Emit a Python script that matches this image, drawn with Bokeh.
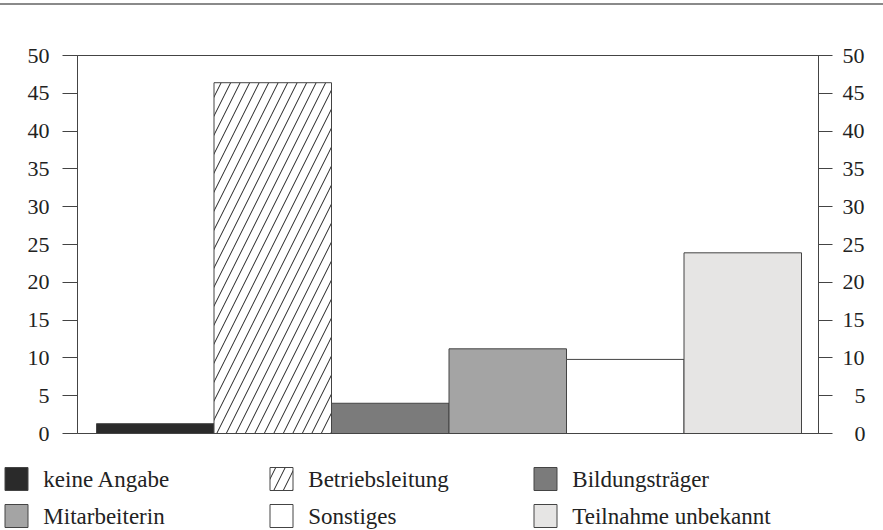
from bokeh.plotting import figure
from bokeh.models import (ColumnDataSource, Range1d, LinearAxis, FixedTicker, BoxAnnotation)
from bokeh.core.properties import value
from bokeh.embed import file_html
from bokeh.resources import INLINE

categories = ["keine Angabe", "Betriebsleitung", "Bildungsträger",
              "Mitarbeiterin", "Sonstiges", "Teilnahme unbekannt"]
values = [1.3, 46.4, 4.0, 11.2, 9.8, 23.9]
colors = ["#2a2a2a", "#ffffff", "#7b7b7b", "#a4a4a4", "#ffffff", "#e6e5e4"]
hatches = [" ", "/", " ", " ", " ", " "]
y_ticks_two_digit = [10, 15, 20, 25, 30, 35, 40, 45, 50]
y_ticks_one_digit = [0, 5]
y_min, y_max = 0, 50

FONT = "Liberation Serif"
TXT = "#222222"
LINE = "#444444"

# layout (pixels) -> the frame covers the whole canvas
W, H = 883, 530
BAR_PX, BAR0_PX = 117.5, 96.0          # bar width / left edge of first bar
AX_L_PX, AX_R_PX = 77.0, 818.0          # axis positions
Y0_PX, PX_PER_UNIT = 433.0, 7.56        # baseline, scale


def px_x(px):
    return (px - BAR0_PX) / BAR_PX


def px_y(py):
    return (Y0_PX - py) / PX_PER_UNIT


x_start, x_end = px_x(0), px_x(W)
y_start, y_end = px_y(H), px_y(0)
ax_left_x, ax_right_x = px_x(AX_L_PX), px_x(AX_R_PX)

xpos = [i + 0.5 for i in range(len(categories))]
src = ColumnDataSource(dict(x=xpos, top=values, cat=categories, color=colors, hatch=hatches))

p = figure(width=W, height=H, output_backend="svg", toolbar_location=None,
           title=None,
           x_range=Range1d(x_start, x_end), y_range=Range1d(y_start, y_end),
           min_border=0, min_border_left=0, min_border_right=0,
           min_border_top=0, min_border_bottom=0,
           x_axis_location=None, y_axis_location=None)
p.border_fill_color = None
p.background_fill_color = None
p.outline_line_color = None
p.styles = {"background": "linear-gradient(to bottom, #ffffff 0px, #ffffff 3px, "
                          "#8a8a8a 3px, #8a8a8a 5px, #ffffff 5px, #ffffff 100%)"}
for g in p.grid:
    g.visible = False

p.vbar(x="x", top="top", bottom=0, width=1, source=src,
       fill_color="color", line_color=LINE, line_width=1,
       hatch_pattern="hatch", hatch_color="#222222", hatch_scale=19, hatch_weight=1)

# plot box (top line at 50, baseline at 0)
p.add_layout(BoxAnnotation(left=ax_left_x, right=ax_right_x, bottom=y_min, top=y_max,
                           fill_alpha=0, line_color=LINE, line_alpha=1, line_width=1))


def make_axis(ticks, loc_x, tick_out, standoff):
    return LinearAxis(ticker=FixedTicker(ticks=ticks), fixed_location=loc_x,
                      bounds=(y_min, y_max),
                      major_tick_in=0, major_tick_out=tick_out,
                      minor_tick_in=0, minor_tick_out=0,
                      axis_line_color=LINE, major_tick_line_color=LINE,
                      major_label_text_font=FONT,
                      major_label_text_font_size="22px",
                      major_label_text_color=TXT, major_label_standoff=standoff)


p.add_layout(make_axis(y_ticks_one_digit + y_ticks_two_digit, ax_left_x, 15, 13), "left")
p.add_layout(make_axis(y_ticks_two_digit, ax_right_x, 14, 10), "right")
p.add_layout(make_axis(y_ticks_one_digit, ax_right_x, 14, 22), "right")

# legend: 3 columns x 2 rows below the chart
COL_PX = [4.5, 269.5, 533.5]
ROW_TOP_PX = [467.0, 504.0]
SW_PX, TEXT_OFF_PX = 23.0, 38.3
lg_left, lg_right, lg_top, lg_bottom, lg_tx, lg_ty = [], [], [], [], [], []
for i in range(len(categories)):
    cx, ry = COL_PX[i % 3], ROW_TOP_PX[i // 3]
    lg_left.append(px_x(cx))
    lg_right.append(px_x(cx + SW_PX))
    lg_top.append(px_y(ry))
    lg_bottom.append(px_y(ry + SW_PX))
    lg_tx.append(px_x(cx + TEXT_OFF_PX))
    lg_ty.append(px_y(ry + SW_PX / 2))
lsrc = ColumnDataSource(dict(left=lg_left, right=lg_right, top=lg_top, bottom=lg_bottom,
                             tx=lg_tx, ty=lg_ty, cat=categories, color=colors, hatch=hatches))
p.quad(left="left", right="right", top="top", bottom="bottom", source=lsrc,
       fill_color="color", line_color=LINE, line_width=1,
       hatch_pattern="hatch", hatch_color="#222222", hatch_scale=19, hatch_weight=1)
p.text(x="tx", y="ty", text="cat", source=lsrc, text_baseline="middle", text_align="left",
       text_font=value(FONT), text_font_size="23px", text_color=TXT)

open("out.html", "w").write(file_html(p, INLINE))
